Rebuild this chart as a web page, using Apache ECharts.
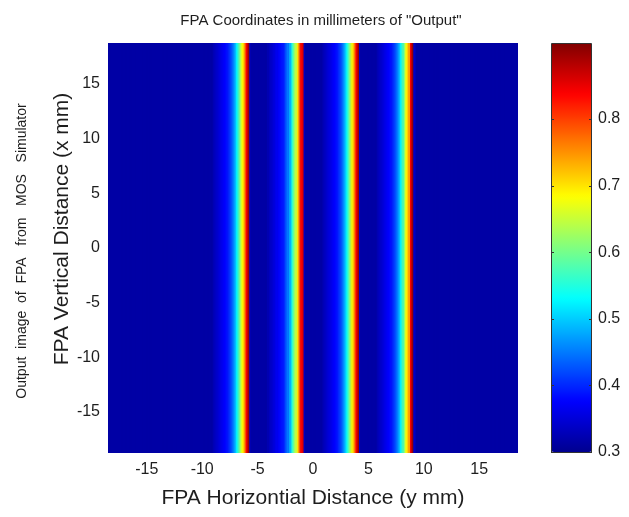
<!DOCTYPE html>
<html>
<head>
<meta charset="utf-8">
<style>html,body{margin:0;padding:0;background:#fff}#c{width:629px;height:517px}</style>
<script src="https://cdn.jsdelivr.net/npm/echarts@6/dist/echarts.min.js"></script>
</head>
<body>
<div id="c"></div>
<script>
// ---- data ----
const xTicks = [-15, -10, -5, 0, 5, 10, 15];
const yTicks = [-15, -10, -5, 0, 5, 10, 15];
const cbTicks = [0.3, 0.4, 0.5, 0.6, 0.7, 0.8];
const xRange = [-18.5, 18.5];
const yRange = [-18.75, 18.75];
const valueRange = [0.3, 0.914];
const stripeCenters = [-6.0, -1.05, 3.9, 8.85];      // mm, red peak of each slit image
const profileStart = -3.0;                            // mm offset of first profile sample
const profileStep = 0.1;                              // mm between samples
const profileValues = [
  0.325, 0.33, 0.335, 0.34, 0.345, 0.35, 0.355, 0.36, 0.365, 0.37,
  0.375, 0.38, 0.385, 0.39, 0.40, 0.41, 0.42, 0.435, 0.45, 0.47,
  0.49, 0.52, 0.55, 0.58, 0.61, 0.645, 0.68, 0.70, 0.74, 0.79,
  0.84, 0.87, 0.90, 0.34
];
const backgroundValue = 0.315;
const jet = ['#00008F','#0000FF','#0080FF','#00FFFF','#80FF80','#FFFF00','#FF8000','#FF0000','#800000'];

// ---- build the image columns ----
const columns = [];
const nCols = Math.round((xRange[1] - xRange[0]) / profileStep);
for (let i = 0; i <= nCols; i++) {
  const x = Math.round((xRange[0] + i * profileStep) * 10) / 10;
  let v = backgroundValue;
  stripeCenters.forEach(c => {
    const k = Math.round((x - c - profileStart) / profileStep);
    if (k >= 0 && k < profileValues.length) v = Math.max(v, profileValues[k]);
  });
  columns.push([x, 0, v]);
}

const chart = echarts.init(document.getElementById('c'));
const font = 'Liberation Sans, Arial, sans-serif';
const txt = '#1e1e1e';
const cb = {left: 551, top: 43, width: 41, height: 409};
chart.setOption({
  animation: false,
  title: {
    text: 'FPA Coordinates in millimeters of "Output"',
    left: 316, top: 8, textAlign: 'center',
    textStyle: {fontFamily: font, fontSize: 15, fontWeight: 'normal', color: txt}
  },
  grid: [
    {left: 108, top: 43, width: 410, height: 410, show: true, backgroundColor: '#0000A0', borderWidth: 0},
    {left: cb.left, top: cb.top, width: cb.width, height: cb.height, show: false}
  ],
  xAxis: [
    {gridIndex: 0, type: 'value', min: xRange[0], max: xRange[1], position: 'bottom',
     splitLine: {show: false}, axisLine: {show: false}, axisTick: {show: false},
     axisLabel: {customValues: xTicks, fontFamily: font, fontSize: 16, color: txt, margin: 9},
     name: 'FPA Horizontial Distance (y mm)', nameLocation: 'middle', nameGap: 35,
     nameTextStyle: {fontFamily: font, fontSize: 21, color: txt}},
    {gridIndex: 1, type: 'value', min: 0, max: 1, show: false}
  ],
  yAxis: [
    {gridIndex: 0, type: 'value', min: yRange[0], max: yRange[1],
     splitLine: {show: false}, axisLine: {show: false}, axisTick: {show: false},
     axisLabel: {customValues: yTicks, fontFamily: font, fontSize: 16, color: txt, margin: 8}},
    {gridIndex: 1, type: 'value', min: valueRange[0], max: valueRange[1], position: 'right',
     splitLine: {show: false}, axisLine: {show: false}, axisTick: {show: false},
     axisLabel: {customValues: cbTicks, fontFamily: font, fontSize: 16, color: txt, margin: 6,
                 formatter: v => v.toFixed(1)}}
  ],
  visualMap: {
    type: 'continuous', min: valueRange[0], max: valueRange[1], dimension: 2, seriesIndex: 0,
    left: cb.left, top: cb.top, itemWidth: cb.width, itemHeight: cb.height, padding: 0,
    calculable: false, hoverLink: false, inRange: {color: jet}
  },
  graphic: [
    {type: 'text', x: 62, y: 229, rotation: Math.PI / 2,
     style: {text: 'FPA Vertical Distance (x mm)', font: '21px ' + font, fill: txt, align: 'center', verticalAlign: 'middle'}},
    {type: 'text', x: 22, y: 251, rotation: Math.PI / 2,
     style: {text: 'Output  image  of  FPA   from   MOS   Simulator', font: '14px ' + font, fill: txt, align: 'center', verticalAlign: 'middle'}}
  ],
  series: [{
    type: 'custom', xAxisIndex: 0, yAxisIndex: 0, clip: true,
    dimensions: ['x', 'y', 'v'], encode: {x: 0, y: 1},
    data: columns,
    renderItem: function (params, api) {
      const x = api.value(0);
      const p0 = api.coord([x - profileStep / 2, yRange[1]]);
      const p1 = api.coord([x + profileStep / 2, yRange[0]]);
      return {type: 'rect',
        shape: {x: p0[0], y: p0[1], width: p1[0] - p0[0] + 0.6, height: p1[1] - p0[1]},
        style: {fill: api.visual('color')}};
    }
  }]
});

// colorbar frame and inner tick marks, placed through the colorbar axis scale
const extra = [{type: 'rect', z: 100,
  shape: {x: cb.left + 0.5, y: cb.top + 0.5, width: cb.width - 1, height: cb.height},
  style: {fill: 'none', stroke: '#333', lineWidth: 1}}];
cbTicks.forEach(v => {
  const py = Math.round(chart.convertToPixel({yAxisIndex: 1}, v)) + 0.5;
  extra.push({type: 'line', z: 100, shape: {x1: cb.left, y1: py, x2: cb.left + 3, y2: py}, style: {stroke: '#333', lineWidth: 1}});
  extra.push({type: 'line', z: 100, shape: {x1: cb.left + cb.width - 3, y1: py, x2: cb.left + cb.width, y2: py}, style: {stroke: '#333', lineWidth: 1}});
});
chart.setOption({graphic: chart.getOption().graphic[0].elements.concat(extra)});
</script>
</body>
</html>
